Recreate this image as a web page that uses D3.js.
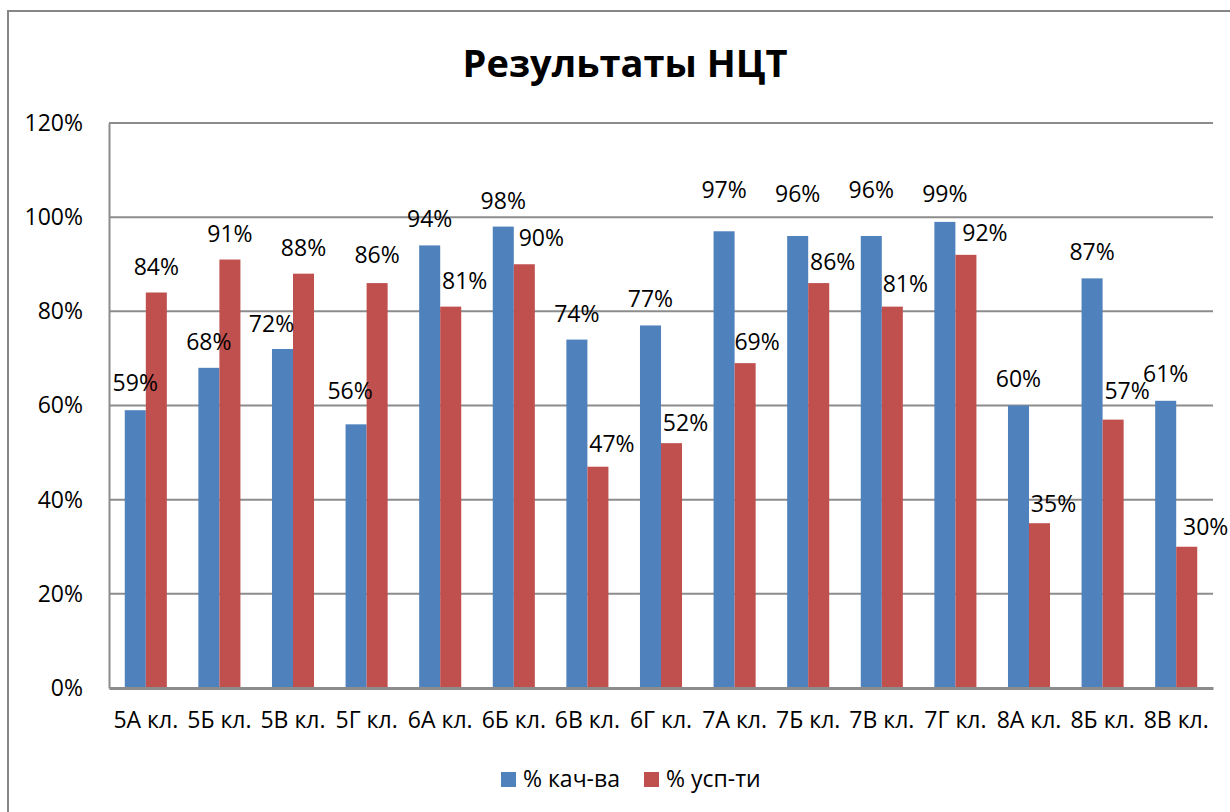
<!DOCTYPE html>
<html><head><meta charset="utf-8">
<script src="https://cdn.jsdelivr.net/npm/d3@7"></script>
<style>
html,body{margin:0;padding:0;background:#fff;}
svg{display:block;}
text{font-family:"Open Sans","DejaVu Sans",sans-serif;fill:#000;}
</style></head>
<body>
<svg id="chart" width="1230" height="812"></svg>
<script>
// ---- data ----
const categories = ["5А кл.","5Б кл.","5В кл.","5Г кл.","6А кл.","6Б кл.","6В кл.","6Г кл.","7А кл.","7Б кл.","7В кл.","7Г кл.","8А кл.","8Б кл.","8В кл."];
const seriesNames = ["% кач-ва","% усп-ти"];
const quality = [0.59,0.68,0.72,0.56,0.94,0.98,0.74,0.77,0.97,0.96,0.96,0.99,0.60,0.87,0.61];
const success = [0.84,0.91,0.88,0.86,0.81,0.90,0.47,0.52,0.69,0.86,0.81,0.92,0.35,0.57,0.30];
const yTicks = [0,0.2,0.4,0.6,0.8,1.0,1.2];
const title = "Результаты НЦТ";

// ---- layout / style (not data) ----
const colors = ["#4F81BD","#C0504D"];
const plot = {left:109, right:1213, top:123, bottom:688};
// label nudges (dx, dy) relative to default placement, per series
const nudgeQ = [[0,-1],[0,0],[-11,1],[-6,-7],[0,0],[0,0],[0,0],[0,0],[0,-15],[0,-16],[0,-20],[0,-2],[0,-1],[0,0],[0,-1]];
const nudgeS = [[0,0],[0,0],[0,0],[0,-2],[14,0],[17,0],[14,3],[14,6],[12,5],[14,5],[13,3],[19,4],[14,7],[14,-3],[19,6]];

const svg = d3.select("#chart");

// outer chart border (extends beyond the picture on right and bottom)
svg.append("rect").attr("x",8).attr("y",11).attr("width",1260).attr("height",840)
  .attr("fill","#fff").attr("stroke","#868686").attr("stroke-width",2);

// title
svg.append("text").attr("x",625).attr("y",77).attr("text-anchor","middle")
  .style("font-size","38px").style("font-weight","700").text(title);

const x0 = d3.scaleBand().domain(categories).range([plot.left, plot.right]).padding(0);
const x1 = d3.scaleBand().domain(seriesNames).range([0, x0.bandwidth()]).paddingInner(0).paddingOuter(0.75);
const y = d3.scaleLinear().domain([0,1.2]).range([plot.bottom, plot.top]);

// gridlines
svg.append("g").selectAll("line").data(yTicks.filter(t=>t>0)).join("line")
  .attr("x1",plot.left).attr("x2",plot.right)
  .attr("y1",d=>y(d)).attr("y2",d=>y(d))
  .attr("stroke","#8c8c8c").attr("stroke-width",2);

// y axis
const yAxis = d3.axisLeft(y).tickValues(yTicks).tickFormat(d=>Math.round(d*100)+"%").tickSize(0).tickPadding(26);
const gy = svg.append("g").attr("transform",`translate(${plot.left},0)`).call(yAxis);
gy.select(".domain").attr("stroke","#8c8c8c").attr("stroke-width",2);
gy.selectAll("text").style("font-size","23px").style("font-family","'Open Sans'").attr("fill","#000");

// bars
const rows = categories.map((c,i)=>({cat:c, vals:[quality[i], success[i]], i}));
const groups = svg.append("g").selectAll("g").data(rows).join("g")
  .attr("transform",d=>`translate(${x0(d.cat)},0)`);
groups.selectAll("rect").data(d=>d.vals.map((v,k)=>({v,k,name:seriesNames[k]}))).join("rect")
  .attr("x",d=>x1(d.name)).attr("width",x1.bandwidth())
  .attr("y",d=>y(d.v)).attr("height",d=>y(0)-y(d.v))
  .attr("fill",d=>colors[d.k]);

// x axis
const xAxis = d3.axisBottom(x0).tickSize(0).tickPadding(24);
const gx = svg.append("g").attr("transform",`translate(0,${plot.bottom})`).call(xAxis);
gx.select(".domain").attr("stroke","#8c8c8c").attr("stroke-width",3);
gx.selectAll("text").style("font-size","23px").style("font-family","'Open Sans'").attr("fill","#000");

// data labels
const nudges = [nudgeQ, nudgeS];
groups.selectAll("text.lbl").data(d=>d.vals.map((v,k)=>({v,k,name:seriesNames[k],i:d.i}))).join("text")
  .attr("class","lbl")
  .attr("x",d=>x1(d.name)+x1.bandwidth()/2 + nudges[d.k][d.i][0])
  .attr("y",d=>y(d.v)-18 + nudges[d.k][d.i][1])
  .attr("text-anchor","middle").style("font-size","23px")
  .text(d=>Math.round(d.v*100)+"%");

// legend
const legend = svg.append("g");
const legX = [501, 644];
seriesNames.forEach((n,k)=>{
  legend.append("rect").attr("x",legX[k]).attr("y",772).attr("width",15).attr("height",15).attr("fill",colors[k]);
  legend.append("text").attr("x",legX[k]+22).attr("y",787).style("font-size","23px").text(n);
});
</script>
</body></html>
